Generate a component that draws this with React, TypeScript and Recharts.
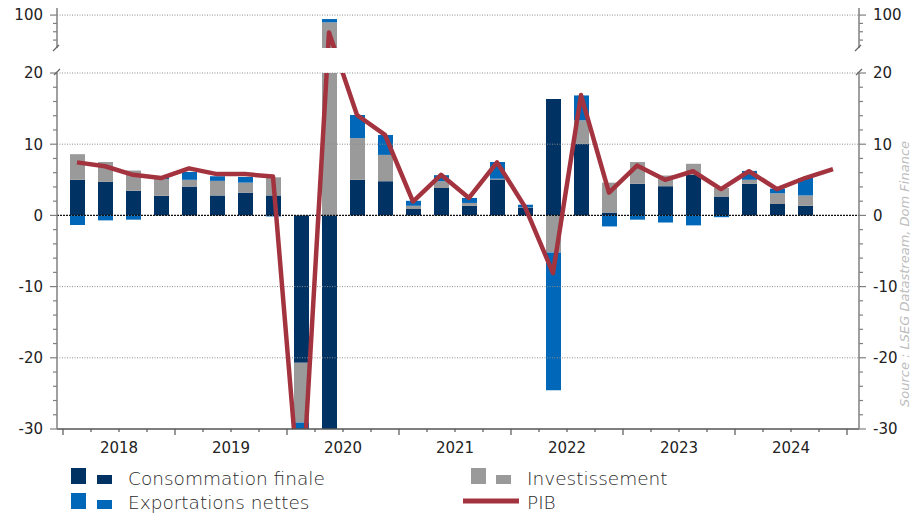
import React from 'react';
import { ComposedChart, Bar, Line, XAxis, YAxis, ReferenceLine } from 'recharts';

// ---------- data ----------
const QUARTERS = [
  '2018 T1', '2018 T2', '2018 T3', '2018 T4',
  '2019 T1', '2019 T2', '2019 T3', '2019 T4',
  '2020 T1', '2020 T2', '2020 T3', '2020 T4',
  '2021 T1', '2021 T2', '2021 T3', '2021 T4',
  '2022 T1', '2022 T2', '2022 T3', '2022 T4',
  '2023 T1', '2023 T2', '2023 T3', '2023 T4',
  '2024 T1', '2024 T2', '2024 T3', '2024 T4',
];
const CONSOMMATION = [5.0, 4.7, 3.45, 2.75, 4.05, 2.8, 3.2, 2.8, -20.7, -36, 5.0, 4.8, 0.9, 3.85, 1.35, 5.05, 1.1, 16.35, 10.05, 0.4, 4.45, 4.1, 5.7, 2.65, 4.45, 1.6, 1.35, null];
const INVESTISSEMENT = [3.6, 2.8, 2.85, 2.35, 0.95, 2.05, 1.4, 2.55, -8.4, 98.25, 5.85, 3.7, 0.45, 0.95, 0.4, 0.1, 0.05, -5.2, 3.3, 4.2, 3.05, 1.5, 1.55, 1.2, 0.55, 1.5, 1.45, null];
const EXPORTATIONS = [-1.35, -0.7, -0.6, 0.2, 1.1, 0.65, 0.8, -0.15, -12.9, 0.8, 3.25, 2.8, 0.7, 0.85, 0.7, 2.35, 0.35, -19.35, 3.5, -1.55, -0.6, -1.0, -1.4, -0.25, 1.25, 0.65, 2.45, null];
const PIB = [7.45, 6.9, 5.7, 5.25, 6.6, 5.8, 5.8, 5.45, -42, 95.8, 14.1, 11.3, 1.95, 5.7, 2.45, 7.45, 1.2, -8.1, 16.9, 3.2, 7.0, 5.0, 6.2, 3.7, 6.2, 3.7, 5.25, 6.5];

const MAIN_TICKS = [-30, -28, -26, -24, -22, -20, -18, -16, -14, -12, -10, -8, -6, -4, -2, 0, 2, 4, 6, 8, 10, 12, 14, 16, 18, 20];
const MAIN_LABELS = [-30, -20, -10, 0, 10, 20];
const MAIN_GRID = [-20, -10, 10, 20];
const TOP_TICKS = [94, 96, 98, 100];
const TOP_LABELS = [100];
const MAIN_DOMAIN: [number, number] = [-30, 20];
const TOP_DOMAIN: [number, number] = [92.1, 101.7];

const LEGEND_LABELS = {
  cons: 'Consommation finale',
  exp: 'Exportations nettes',
  inv: 'Investissement',
  pib: 'PIB',
};
const SOURCE = 'Source : LSEG Datastream, Dom Finance';

// ---------- style / layout ----------
const NAVY = '#003264';
const BLUE = '#0067b9';
const GRAY = '#9a9a9a';
const RED = '#a3343f';
const AXIS = '#808080';
const FONT = '"DejaVu Sans", Verdana, sans-serif';

const W = 913;
const PLOT_LEFT = 57;
const PLOT_RIGHT = 859;
const TOP_PLOT_TOP = 8;
const TOP_PLOT_H = 40;
const MAIN_PLOT_TOP = 73;
const MAIN_PLOT_H = 356;
const GAP = MAIN_PLOT_TOP - (TOP_PLOT_TOP + TOP_PLOT_H);
const X_PAD = { left: 6, right: 12 };
const BAND_HALF = (PLOT_RIGHT - PLOT_LEFT - X_PAD.left - X_PAD.right) / QUARTERS.length / 2;

// broken-axis mapping (value -> pixels above the top of the main panel)
const kMain = MAIN_PLOT_H / (MAIN_DOMAIN[1] - MAIN_DOMAIN[0]);
const kTop = TOP_PLOT_H / (TOP_DOMAIN[1] - TOP_DOMAIN[0]);
function pxAboveMainTop(v: number) {
  if (v <= MAIN_DOMAIN[1]) return (v - MAIN_DOMAIN[1]) * kMain;
  if (v >= TOP_DOMAIN[0]) return GAP + (v - TOP_DOMAIN[0]) * kTop;
  return (GAP * (v - MAIN_DOMAIN[1])) / (TOP_DOMAIN[0] - MAIN_DOMAIN[1]);
}
const toMain = (v: number) => MAIN_DOMAIN[1] + pxAboveMainTop(v) / kMain;
const toTop = (v: number) => TOP_DOMAIN[0] + (pxAboveMainTop(v) - GAP) / kTop;

const data = QUARTERS.map((q, i) => ({
  q,
  cons: CONSOMMATION[i],
  inv: INVESTISSEMENT[i],
  exp: EXPORTATIONS[i],
  pibMain: toMain(PIB[i]),
  pibTop: toTop(PIB[i]),
}));

// ---------- ticks ----------
const makeYTick = (side: 'left' | 'right', labels: number[]) => (props: any) => {
  const { x, y, payload } = props;
  const v = payload.value;
  const major = labels.includes(v);
  const len = major ? 7 : 4;
  const dir = side === 'left' ? -1 : 1;
  return (
    <g>
      <line x1={x} x2={x + dir * len} y1={y} y2={y} stroke={AXIS} strokeWidth={1.2} />
      {major && (
        <text
          x={x + dir * 14}
          y={y}
          dy="0.36em"
          textAnchor={side === 'left' ? 'end' : 'start'}
          fontFamily={FONT}
          fontSize={15}
          fill="#222"
        >
          {String(v)}
        </text>
      )}
    </g>
  );
};

const XTick = (props: any) => {
  const { x, y, payload } = props;
  const i = payload.index;
  const half = BAND_HALF;
  const q = i % 4;
  const left = x - half;
  const last = i === QUARTERS.length - 1;
  return (
    <g>
      <line x1={left} x2={left} y1={y} y2={y + (q === 0 ? 6 : 3)} stroke="#555" strokeWidth={1.2} />
      {last && <line x1={x + half} x2={x + half} y1={y} y2={y + 6} stroke="#555" strokeWidth={1.2} />}
      {q === 2 && (
        <text x={left} y={y + 24} textAnchor="middle" fontFamily={FONT} fontSize={15} fill="#222">
          {String(payload.value).slice(0, 4)}
        </text>
      )}
    </g>
  );
};

const gridProps = { stroke: '#8c8c8c', strokeDasharray: '1 1.5', strokeWidth: 1 };

export default function App() {
  const yAxisCommon = {
    type: 'number' as const,
    allowDataOverflow: true,
    interval: 0 as const,
    tickSize: 0,
    tickMargin: 0,
    tickLine: false,
    axisLine: { stroke: AXIS, strokeWidth: 1.5 },
  };
  return (
    <div
      style={{
        position: 'absolute',
        left: 0,
        top: 0,
        width: W,
        height: 513,
        overflow: 'hidden',
        background: '#fff',
      }}
    >
      {/* upper panel (around 100) */}
      <div style={{ position: 'absolute', left: 0, top: 0 }}>
        <ComposedChart
          width={W}
          height={TOP_PLOT_TOP + TOP_PLOT_H}
          data={data}
          margin={{ top: TOP_PLOT_TOP, right: 0, bottom: 0, left: 0 }}
          stackOffset="sign"
          barSize={15}
        >
          <XAxis dataKey="q" hide padding={X_PAD} />
          <YAxis
            yAxisId="l"
            orientation="left"
            width={PLOT_LEFT}
            domain={TOP_DOMAIN}
            ticks={TOP_TICKS}
            tick={makeYTick('left', TOP_LABELS)}
            {...yAxisCommon}
          />
          <YAxis
            yAxisId="r"
            orientation="right"
            width={W - PLOT_RIGHT}
            domain={TOP_DOMAIN}
            ticks={TOP_TICKS}
            tick={makeYTick('right', TOP_LABELS)}
            {...yAxisCommon}
          />
          {TOP_LABELS.map((v) => (
            <ReferenceLine key={v} yAxisId="l" y={v} {...gridProps} />
          ))}
          <Bar yAxisId="l" dataKey="cons" stackId="s" fill={NAVY} isAnimationActive={false} />
          <Bar yAxisId="l" dataKey="inv" stackId="s" fill={GRAY} isAnimationActive={false} />
          <Bar yAxisId="l" dataKey="exp" stackId="s" fill={BLUE} isAnimationActive={false} />
          <Line
            yAxisId="l"
            dataKey="pibTop"
            stroke={RED}
            strokeWidth={4.5}
            strokeLinejoin="round"
            dot={false}
            activeDot={false}
            isAnimationActive={false}
          />
        </ComposedChart>
      </div>

      {/* main panel */}
      <div style={{ position: 'absolute', left: 0, top: MAIN_PLOT_TOP - 18 }}>
        <ComposedChart
          width={W}
          height={18 + MAIN_PLOT_H + 34}
          data={data}
          margin={{ top: 18, right: 0, bottom: 0, left: 0 }}
          stackOffset="sign"
          barSize={15}
        >
          <XAxis
            dataKey="q"
            padding={X_PAD}
            height={34}
            interval={0}
            tickSize={0}
            tickMargin={0}
            tickLine={false}
            axisLine={{ stroke: '#555', strokeWidth: 1.5 }}
            tick={XTick}
          />
          <YAxis
            yAxisId="l"
            orientation="left"
            width={PLOT_LEFT}
            domain={MAIN_DOMAIN}
            ticks={MAIN_TICKS}
            tick={makeYTick('left', MAIN_LABELS)}
            {...yAxisCommon}
          />
          <YAxis
            yAxisId="r"
            orientation="right"
            width={W - PLOT_RIGHT}
            domain={MAIN_DOMAIN}
            ticks={MAIN_TICKS}
            tick={makeYTick('right', MAIN_LABELS)}
            {...yAxisCommon}
          />
          {MAIN_GRID.map((v) => (
            <ReferenceLine key={v} yAxisId="l" y={v} {...gridProps} />
          ))}
          <ReferenceLine yAxisId="l" y={0} stroke="#111" strokeDasharray="2 1" strokeWidth={1.3} />
          <Bar yAxisId="l" dataKey="cons" stackId="s" fill={NAVY} isAnimationActive={false} />
          <Bar yAxisId="l" dataKey="inv" stackId="s" fill={GRAY} isAnimationActive={false} />
          <Bar yAxisId="l" dataKey="exp" stackId="s" fill={BLUE} isAnimationActive={false} />
          <Line
            yAxisId="l"
            dataKey="pibMain"
            stroke={RED}
            strokeWidth={4.5}
            strokeLinejoin="round"
            dot={false}
            activeDot={false}
            isAnimationActive={false}
          />
        </ComposedChart>
      </div>

      {/* decorations: axis breaks, legend, source */}
      <svg
        width={W}
        height={513}
        style={{ position: 'absolute', left: 0, top: 0, pointerEvents: 'none' }}
      >
        <g stroke="#666" strokeWidth={1.3}>
          <line x1={PLOT_LEFT - 4} y1={51} x2={PLOT_LEFT + 2} y2={45} />
          <line x1={PLOT_LEFT - 3} y1={75} x2={PLOT_LEFT + 3} y2={69} />
          <line x1={PLOT_RIGHT - 4} y1={51} x2={PLOT_RIGHT + 2} y2={45} />
          <line x1={PLOT_RIGHT - 3} y1={75} x2={PLOT_RIGHT + 3} y2={69} />
        </g>
        <g fontFamily={FONT} fontSize={18.5} fill="#2a2a2a" fontWeight={300}>
          <rect x={71} y={468} width={15} height={16} fill={NAVY} />
          <rect x={97} y={475} width={15} height={9} fill={NAVY} />
          <text x={128} y={485}>{LEGEND_LABELS.cons}</text>
          <rect x={71} y={493} width={15} height={16} fill={BLUE} />
          <rect x={97} y={500} width={15} height={9} fill={BLUE} />
          <text x={128} y={509}>{LEGEND_LABELS.exp}</text>
          <rect x={471} y={468} width={15} height={16} fill={GRAY} />
          <rect x={496} y={475} width={15} height={9} fill={GRAY} />
          <text x={527} y={485}>{LEGEND_LABELS.inv}</text>
          <line x1={463} y1={501} x2={519} y2={501} stroke={RED} strokeWidth={5} />
          <text x={527} y={509}>{LEGEND_LABELS.pib}</text>
        </g>
        <text
          transform="translate(909, 274) rotate(-90)"
          textAnchor="middle"
          fontFamily={FONT}
          fontStyle="italic"
          fontSize={13}
          fill="#bdbdbd"
        >
          {SOURCE}
        </text>
      </svg>
    </div>
  );
}
